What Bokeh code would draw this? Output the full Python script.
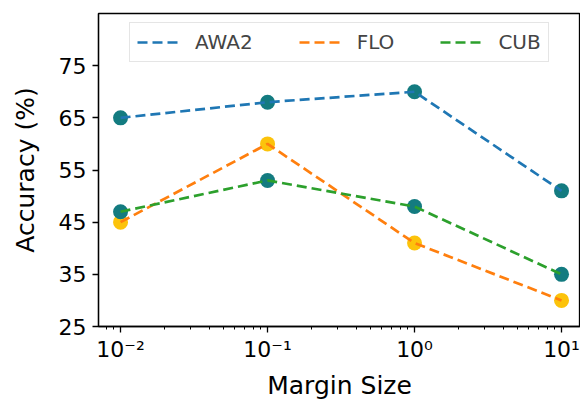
from bokeh.plotting import figure
from bokeh.models import FixedTicker, Legend, LegendItem, ColumnDataSource
from bokeh.embed import file_html
from bokeh.resources import INLINE

# ---- data ----
margin = [0.01, 0.1, 1, 10]
awa2 = [65, 68, 70, 51]
flo = [45, 60, 41, 30]
cub = [47, 53, 48, 35]
series_names = ["AWA2", "FLO", "CUB"]
x_tick_values = [0.01, 0.1, 1, 10]
x_tick_labels = ["10⁻²", "10⁻¹", "10⁰", "10¹"]
y_tick_values = [25, 35, 45, 55, 65, 75]

FONT = "DejaVu Sans"
line_colors = ["#1f77b4", "#ff7f0e", "#2ca02c"]
marker_colors = ["#137b80", "#fcc30b", "#137b80"]

p = figure(width=580, height=402, x_axis_type="log",
           x_range=(10 ** -2.15, 10 ** 1.129), y_range=(25, 85),
           output_backend="svg", toolbar_location=None,
           min_border_left=98, min_border_top=13, min_border_right=0,
           min_border_bottom=76)
p.xgrid.visible = False
p.ygrid.visible = False
p.outline_line_color = "black"
p.outline_line_width = 1.3
p.background_fill_color = "white"
p.border_fill_color = "white"

data = [awa2, flo, cub]
items = []
for name, ys, lc, mc in zip(series_names, data, line_colors, marker_colors):
    src = ColumnDataSource(dict(x=margin, y=ys))
    p.scatter("x", "y", source=src, size=15, fill_color=mc, line_color=None)
for name, ys, lc, mc in zip(series_names, data, line_colors, marker_colors):
    src = ColumnDataSource(dict(x=margin, y=ys))
    r = p.line("x", "y", source=src, line_color=lc, line_width=2.7,
               line_dash="10 5")
    items.append(LegendItem(label=name, renderers=[r]))

minor = [m * 10.0 ** e for e in range(-3, 2) for m in range(2, 10)]
p.xaxis.ticker = FixedTicker(ticks=x_tick_values, minor_ticks=minor)
p.xaxis.major_label_overrides = {v: l for v, l in zip(x_tick_values, x_tick_labels)}
p.yaxis.ticker = FixedTicker(ticks=y_tick_values)

for ax in (p.xaxis[0], p.yaxis[0]):
    ax.axis_line_color = "black"
    ax.axis_line_width = 1.3
    ax.major_tick_line_width = 1.3
    ax.major_tick_out = 6
    ax.major_tick_in = 0
    ax.minor_tick_out = 3
    ax.minor_tick_in = 0
    ax.major_label_text_font = FONT
    ax.major_label_text_font_size = "22px"
    ax.major_label_text_color = "black"
    ax.axis_label_text_font = FONT
    ax.axis_label_text_font_size = "25px"
    ax.axis_label_text_font_style = "normal"
    ax.axis_label_text_color = "black"
p.yaxis.minor_tick_line_color = None
p.xaxis.axis_label = "Margin Size"
p.yaxis.axis_label = "Accuracy (%)"
p.xaxis.major_label_standoff = 4
p.yaxis.major_label_standoff = 6
p.xaxis.axis_label_standoff = 6
p.yaxis.axis_label_standoff = 16

legend = Legend(items=items, orientation="horizontal", location=(31, 264),
                label_text_font=FONT, label_text_font_size="20px",
                glyph_width=42, glyph_height=20, label_standoff=16,
                spacing=46, padding=7, margin=0,
                border_line_color="#cccccc", border_line_width=1.5,
                background_fill_alpha=0.8)
p.add_layout(legend, "center")

open("out.html", "w").write(file_html(p, INLINE))
